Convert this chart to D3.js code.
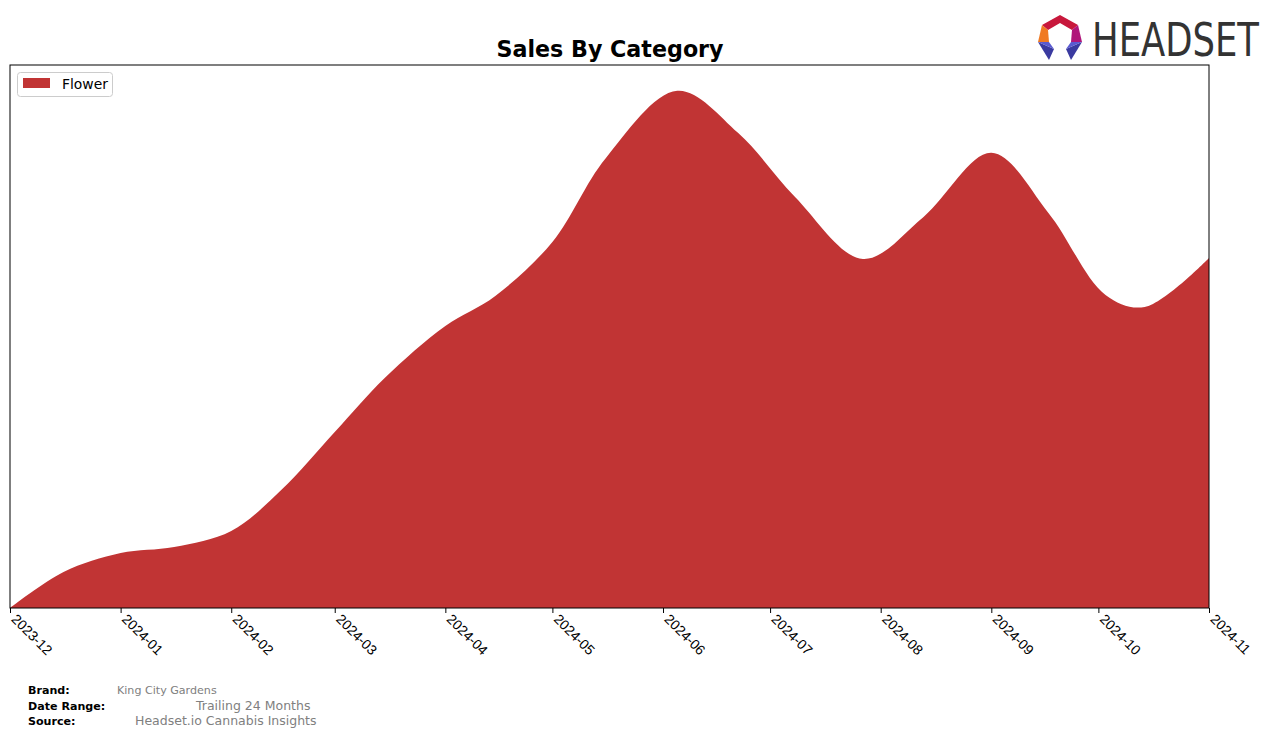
<!DOCTYPE html>
<html><head><meta charset="utf-8">
<script src="https://cdn.jsdelivr.net/npm/d3@7"></script>
<style>body{margin:0;background:#fff;} svg{display:block;font-family:"DejaVu Sans",sans-serif;}</style>
</head><body>
<svg id="c" width="1276" height="738"></svg>
<script>
// Data (relative sales units)
const dates = ["2023-12-01","2023-12-16","2024-01-01","2024-01-16","2024-02-01","2024-02-15","2024-03-01","2024-03-15","2024-04-01","2024-04-15","2024-05-01","2024-05-16","2024-06-05","2024-06-22","2024-07-08","2024-07-27","2024-08-13","2024-09-01","2024-09-17","2024-10-03","2024-10-14","2024-11-01"];
const flowerSales = [0,36,55,61,77,118,176,230,282,312,366,450,517,475,411,349,391,455,395,313,301,350];
const tickLabels = ["2023-12","2024-01","2024-02","2024-03","2024-04","2024-05","2024-06","2024-07","2024-08","2024-09","2024-10","2024-11"];
const seriesName = "Flower";

const svg = d3.select("#c");
const M = {l:10, r:1209, t:65, b:608};
const parse = d3.timeParse("%Y-%m-%d");
const pts = dates.map((d,i)=>({date:parse(d), v:flowerSales[i]}));
const x = d3.scaleTime().domain([parse("2023-12-01"), parse("2024-11-01")]).range([M.l, M.r]);
const y = d3.scaleLinear().domain([0, d3.max(flowerSales)*1.05]).range([M.b, M.t]);

const area = d3.area().x(d=>x(d.date)).y0(y(0)).y1(d=>y(d.v)).curve(d3.curveCatmullRom.alpha(0.5));
svg.append("path").datum(pts).attr("d", area).attr("fill", "#c13434");

// frame
svg.append("rect").attr("x",M.l).attr("y",M.t).attr("width",M.r-M.l).attr("height",M.b-M.t)
  .attr("fill","none").attr("stroke","#000").attr("stroke-width",1);

// x axis
const tickDates = tickLabels.map(t=>d3.timeParse("%Y-%m")(t));
const ax = svg.append("g").attr("transform",`translate(0,${M.b})`)
  .call(d3.axisBottom(x).tickValues(tickDates).tickFormat(d3.timeFormat("%Y-%m")).tickSize(5).tickSizeOuter(0));
ax.select(".domain").remove();
ax.selectAll(".tick line").attr("stroke","#000");
ax.selectAll(".tick text").attr("font-size",13.9).attr("fill","#000")
  .attr("text-anchor","start").attr("dy",0).attr("y",0)
  .attr("transform","translate(0,12) rotate(45)");

// title
svg.append("text").attr("x",610).attr("y",57).attr("text-anchor","middle")
  .attr("font-size",22.2).attr("font-weight","bold").text("Sales By Category");

// legend
svg.append("rect").attr("x",17.5).attr("y",72.5).attr("width",95).attr("height",24).attr("rx",3)
  .attr("fill","#fff").attr("stroke","#ccc");
svg.append("rect").attr("x",23).attr("y",78).attr("width",27).attr("height",10).attr("fill","#c13434");
svg.append("text").attr("x",62).attr("y",89).attr("font-size",13.9).text(seriesName);

// footer
const foot = [["Brand:","King City Gardens",117,694,11.1],["Date Range:","Trailing 24 Months",196,710,12.5],["Source:","Headset.io Cannabis Insights",135,725,12.5]];
foot.forEach(f=>{
  svg.append("text").attr("x",28).attr("y",f[3]).attr("font-size",11.1).attr("font-weight","bold").text(f[0]);
  svg.append("text").attr("x",f[2]).attr("y",f[3]).attr("font-size",f[4]).attr("fill","#808080").text(f[1]);
});

// logo
const lg = svg.append("g");
const cx=1060, cy=37;
lg.append("polygon").attr("points",`${cx-18},${cy-12} ${cx},${cy-22} ${cx+18},${cy-12} ${cx+12},${cy-7} ${cx},${cy-14} ${cx-12},${cy-7}`).attr("fill","#c8183c");
lg.append("polygon").attr("points",`${cx-18},${cy-12} ${cx-12},${cy-7} ${cx-11},${cy+5} ${cx-22},${cy+5}`).attr("fill","#f07a22");
lg.append("polygon").attr("points",`${cx+18},${cy-12} ${cx+12},${cy-7} ${cx+11},${cy+5} ${cx+22},${cy+5}`).attr("fill","#b0167a");
lg.append("polygon").attr("points",`${cx-22},${cy+5} ${cx-6},${cy+12} ${cx-11},${cy+23}`).attr("fill","#3a3aa0");
lg.append("polygon").attr("points",`${cx+22},${cy+5} ${cx+6},${cy+12} ${cx+11},${cy+23}`).attr("fill","#3a3aa0");
lg.append("polygon").attr("points",`${cx-22},${cy+5} ${cx-11},${cy+5} ${cx-6},${cy+12}`).attr("fill","#5a5ad0");
lg.append("polygon").attr("points",`${cx+22},${cy+5} ${cx+11},${cy+5} ${cx+6},${cy+12}`).attr("fill","#5a5ad0");
lg.append("text").attr("x",0).attr("y",0).attr("font-size",46).attr("fill","#333")
  .attr("transform","translate(1092,56) scale(0.77,1)").text("HEADSET");
</script>
</body></html>
